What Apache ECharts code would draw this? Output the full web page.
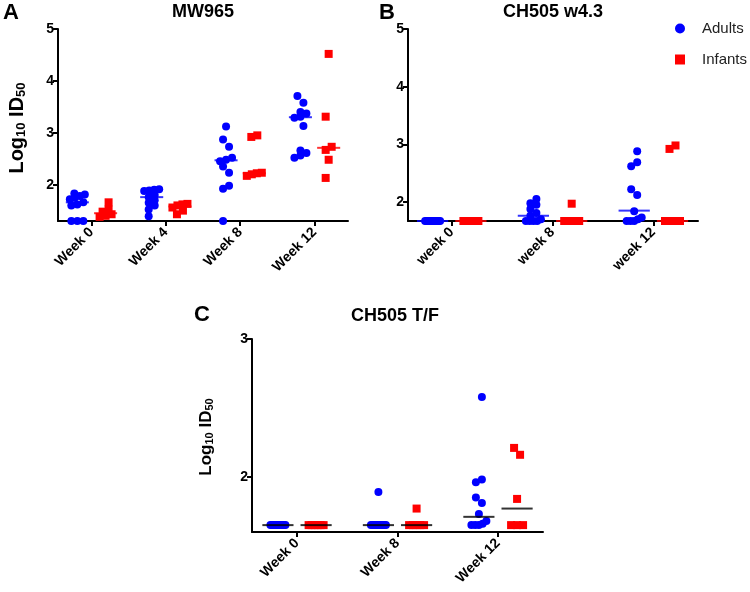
<!DOCTYPE html>
<html>
<head>
<meta charset="utf-8">
<script src="https://cdn.jsdelivr.net/npm/echarts@6/dist/echarts.min.js"></script>
<style>
  html, body { margin: 0; padding: 0; background: #fff; }
  #chart { width: 750px; height: 592px; }
</style>
</head>
<body>
<div id="chart"></div>
<script>
// Panel A: MW965
const catsA = ["Week 0", "Week 4", "Week 8", "Week 12"];
const adultsA = [
  [1.83, 1.81, 1.78, 1.75, 1.72, 1.66, 1.62, 1.6, 1.3, 1.3, 1.3],
  [1.91, 1.9, 1.89, 1.88, 1.8, 1.76, 1.7, 1.65, 1.6, 1.52, 1.39],
  [3.12, 2.87, 2.73, 2.52, 2.48, 2.45, 2.35, 2.23, 1.98, 1.92, 1.3],
  [3.71, 3.58, 3.4, 3.37, 3.31, 3.29, 3.13, 2.66, 2.61, 2.56, 2.52],
];
const infantsA = [
  [1.66, 1.52, 1.48, 1.43, 1.4, 1.38],
  [1.63, 1.62, 1.6, 1.56, 1.5, 1.43],
  [2.95, 2.92, 2.23, 2.22, 2.2, 2.17],
  [4.52, 3.31, 2.73, 2.67, 2.48, 2.13],
];
const adultMedA = [1.66, 1.76, 2.47, 3.3];
const infantMedA = [1.45, 1.58, 2.22, 2.71];

// Panel B: CH505 w4.3
const catsB = ["week 0", "week 8", "week 12"];
const adultsB = [
  [1.67, 1.67, 1.67, 1.67, 1.67, 1.67, 1.67, 1.67, 1.67, 1.67, 1.67],
  [2.05, 1.98, 1.95, 1.88, 1.81, 1.76, 1.7, 1.67, 1.67, 1.67, 1.67],
  [2.88, 2.69, 2.62, 2.22, 2.12, 1.84, 1.73, 1.7, 1.67, 1.67, 1.67],
];
const infantsB = [
  [1.67, 1.67, 1.67, 1.67, 1.67, 1.67],
  [1.97, 1.67, 1.67, 1.67, 1.67, 1.67],
  [2.98, 2.92, 1.67, 1.67, 1.67, 1.67],
];
const adultMedB = [1.67, 1.76, 1.85];
const infantMedB = [1.67, 1.67, 1.67];

// Panel C: CH505 T/F
const catsC = ["Week 0", "Week 8", "Week 12"];
const adultsC = [
  [1.65, 1.65, 1.65, 1.65, 1.65, 1.65, 1.65, 1.65, 1.65, 1.65, 1.65],
  [1.89, 1.65, 1.65, 1.65, 1.65, 1.65, 1.65, 1.65, 1.65, 1.65, 1.65],
  [2.58, 1.98, 1.96, 1.85, 1.81, 1.73, 1.68, 1.66, 1.65, 1.65, 1.65],
];
const infantsC = [
  [1.65, 1.65, 1.65, 1.65, 1.65, 1.65],
  [1.77, 1.65, 1.65, 1.65, 1.65, 1.65],
  [2.21, 2.16, 1.84, 1.65, 1.65, 1.65],
];
const adultMedC = [1.65, 1.65, 1.71];
const infantMedC = [1.65, 1.65, 1.77];

const BLUE = "#0000ff";
const RED = "#ff0000";
const FONT = '"Liberation Sans", Arial, sans-serif';

const panels = [
  {
    cats: catsA, adults: adultsA, infants: infantsA, adultMed: adultMedA, infantMed: infantMedA,
    grid: { left: 58, top: 29, width: 290, height: 192 },
    xRange: [-0.45, 3.45], yRange: [1.3, 5], yTicks: [2, 3, 4, 5],
    medColors: [BLUE, RED],
  },
  {
    cats: catsB, adults: adultsB, infants: infantsB, adultMed: adultMedB, infantMed: infantMedB,
    grid: { left: 408, top: 29, width: 290, height: 192 },
    xRange: [-0.434, 2.443], yRange: [1.67, 5], yTicks: [2, 3, 4, 5],
    medColors: [BLUE, RED],
  },
  {
    cats: catsC, adults: adultsC, infants: infantsC, adultMed: adultMedC, infantMed: infantMedC,
    grid: { left: 252, top: 339, width: 291, height: 193 },
    xRange: [-0.448, 2.448], yRange: [1.6, 3], yTicks: [2, 3],
    medColors: ["#000", "#000"],
  },
];

// spread points that sit at (nearly) the same height, like a column scatter
function spread(values, cat, side, pxX, pxY) {
  const order = values.map((v, i) => i).sort((a, b) => values[a] - values[b]);
  const rows = [];
  let row = null;
  order.forEach((i) => {
    const py = values[i] * pxY;
    if (!row || Math.abs(py - row.py0) > 5) {
      row = { py0: py, items: [] };
      rows.push(row);
    }
    row.items.push(i);
  });
  const out = [];
  rows.forEach((r, ri) => {
    const n = r.items.length;
    const step = n > 1 ? Math.min(6, 15 / (n - 1)) : 0;
    // lone points wobble a little so the column does not look ruled
    const wobble = n === 1 ? (ri % 3 - 1) * 3 : 0;
    r.items.forEach((i, k) => {
      const dx = (k - (n - 1) / 2) * step + wobble;
      out.push([cat + side * 0.19 + dx / pxX, values[i]]);
    });
  });
  return out;
}

const grids = [], xAxes = [], yAxes = [], series = [];

panels.forEach((p, gi) => {
  const pxX = p.grid.width / (p.xRange[1] - p.xRange[0]);
  const pxY = p.grid.height / (p.yRange[1] - p.yRange[0]);
  const tickIdx = p.cats.map((c, i) => i);

  grids.push(Object.assign({ containLabel: false }, p.grid));

  xAxes.push({
    gridIndex: gi,
    type: "value",
    min: p.xRange[0],
    max: p.xRange[1],
    splitLine: { show: false },
    axisLine: { show: true, onZero: false, lineStyle: { color: "#000", width: 2 } },
    axisTick: { show: true, customValues: tickIdx, length: 5, lineStyle: { color: "#000", width: 2 } },
    axisLabel: {
      customValues: tickIdx,
      formatter: (v) => p.cats[Math.round(v)],
      rotate: 45,
      margin: 9,
      color: "#000",
      fontWeight: "bold",
      fontSize: 14,
      fontFamily: FONT,
    },
  });

  yAxes.push({
    gridIndex: gi,
    type: "value",
    min: p.yRange[0],
    max: p.yRange[1],
    splitLine: { show: false },
    axisLine: { show: true, onZero: false, lineStyle: { color: "#000", width: 2 } },
    axisTick: { show: true, customValues: p.yTicks, length: 5, lineStyle: { color: "#000", width: 2 } },
    axisLabel: {
      customValues: p.yTicks,
      margin: 4,
      color: "#000",
      fontWeight: "bold",
      fontSize: 14,
      fontFamily: FONT,
    },
  });

  const adultPts = [], infantPts = [];
  p.cats.forEach((c, ci) => {
    adultPts.push(...spread(p.adults[ci], ci, -1, pxX, pxY));
    infantPts.push(...spread(p.infants[ci], ci, 1, pxX, pxY));
  });

  series.push({
    name: "Adults", type: "scatter", xAxisIndex: gi, yAxisIndex: gi,
    symbol: "circle", symbolSize: 8, clip: false,
    itemStyle: { color: BLUE, opacity: 1 },
    data: adultPts,
  });
  series.push({
    name: "Infants", type: "scatter", xAxisIndex: gi, yAxisIndex: gi,
    symbol: "rect", symbolSize: 8, clip: false,
    itemStyle: { color: RED, opacity: 1 },
    data: infantPts,
  });

  const medW = 0.31 * pxX;
  series.push({
    name: "Adults median", type: "scatter", xAxisIndex: gi, yAxisIndex: gi,
    symbol: "rect", symbolSize: [medW, 2], z: 5, clip: false,
    itemStyle: { color: p.medColors[0] },
    data: p.adultMed.map((m, ci) => [ci - 0.19, m]),
  });
  series.push({
    name: "Infants median", type: "scatter", xAxisIndex: gi, yAxisIndex: gi,
    symbol: "rect", symbolSize: [medW, 2], z: 5, clip: false,
    itemStyle: { color: p.medColors[1] },
    data: p.infantMed.map((m, ci) => [ci + 0.19, m]),
  });
});

function label(text, x, y, size) {
  return {
    type: "text", x: x, y: y,
    style: { text: text, fill: "#000", font: "bold " + size + "px " + FONT, align: "center", verticalAlign: "middle" },
  };
}

function yName(x, y, big, small) {
  return {
    type: "text", x: x, y: y, rotation: Math.PI / 2,
    style: {
      text: "{a|Log}{s|10}{a| ID}{s|50}",
      fill: "#000",
      align: "center",
      verticalAlign: "middle",
      rich: {
        a: { fontSize: big, fontWeight: "bold", fontFamily: FONT, lineHeight: big + 3, verticalAlign: "bottom" },
        s: { fontSize: small, fontWeight: "bold", fontFamily: FONT, lineHeight: small - 3, verticalAlign: "bottom" },
      },
    },
  };
}

const chart = echarts.init(document.getElementById("chart"), null, { renderer: "canvas" });

chart.setOption({
  backgroundColor: "#fff",
  animation: false,
  grid: grids,
  xAxis: xAxes,
  yAxis: yAxes,
  legend: {
    data: [
      { name: "Adults", icon: "circle" },
      { name: "Infants", icon: "rect" },
    ],
    orient: "vertical",
    left: 675,
    top: 21,
    padding: 0,
    itemWidth: 10,
    itemHeight: 10,
    itemGap: 16,
    selectedMode: false,
    textStyle: { fontSize: 15, color: "#222", fontFamily: FONT, padding: [0, 0, 0, 12] },
  },
  graphic: [
    label("A", 11, 13, 22),
    label("B", 387, 13, 22),
    label("C", 202, 315, 22),
    label("MW965", 203, 12, 18),
    label("CH505 w4.3", 553, 12, 18),
    label("CH505 T/F", 395, 316, 18),
    yName(16, 128, 20, 13),
    yName(205, 437, 17, 11),
  ],
  series: series,
});
</script>
</body>
</html>
